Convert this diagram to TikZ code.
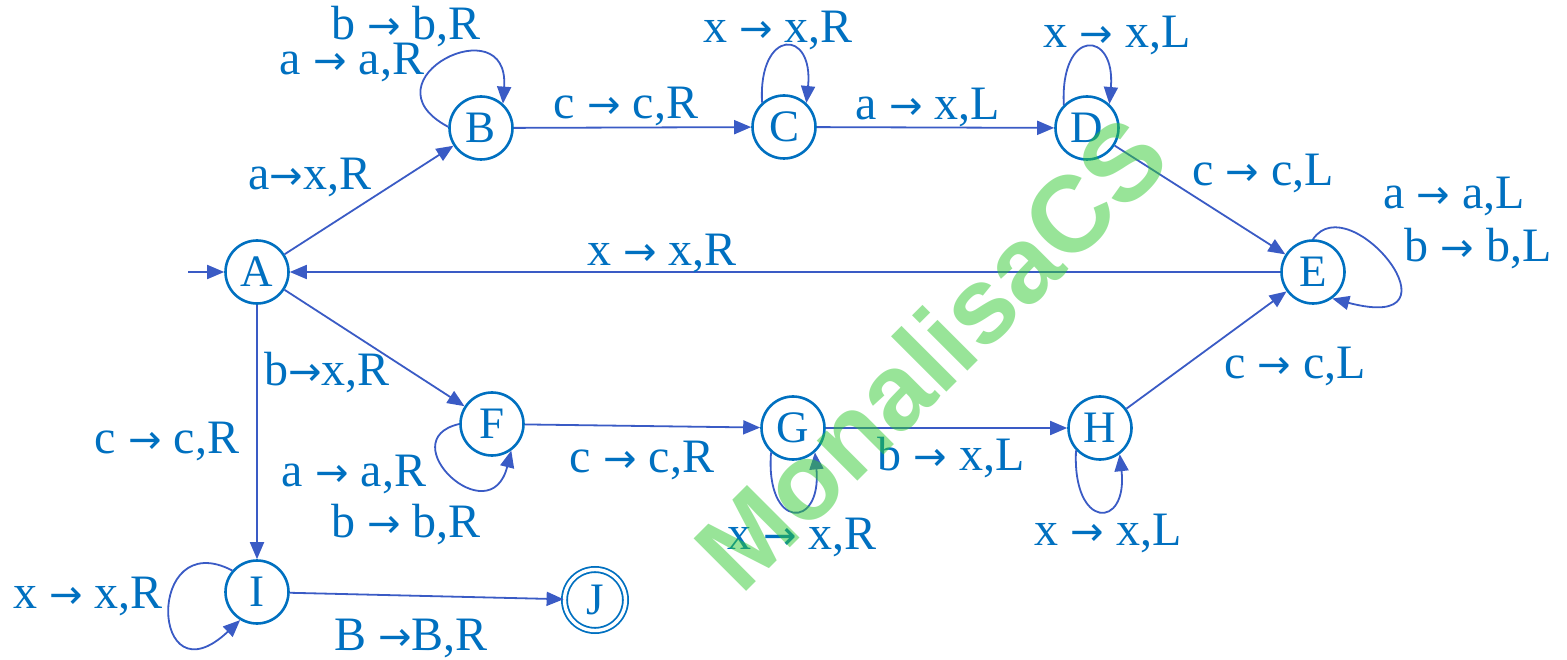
\documentclass[tikz,border=0pt]{standalone}
\usepackage{fontspec}
\setmainfont{Liberation Serif}
\newfontfamily\wmfont{Liberation Sans}
\newfontfamily\tmarrowfont{DejaVu Sans}
\usepackage{tikz}
\usetikzlibrary{arrows.meta, positioning}
\definecolor{tmblue}{HTML}{0070C0}
\definecolor{tmedgeblue}{HTML}{3A5BC5}
\definecolor{wmgreen}{HTML}{31CA31}
\newcommand{\tmto}{{\tmarrowfont\fontsize{40}{40}\selectfont →}}

\begin{document}
\begin{tikzpicture}[x=1pt, y=1pt, font=\fontsize{48}{56}\selectfont, >={Triangle[length=17pt, width=14pt]},
    tmstate/.style={circle, draw=tmblue, text=tmblue, line width=2.6pt, minimum size=63pt, inner sep=0pt, font=\fontsize{45}{50}\selectfont},
    tmfinal/.style={tmstate, line width=1.8pt, double=white, double distance=3.4pt, minimum size=61pt},
    tmedge/.style={->, draw=tmedgeblue, line width=1.8pt},
    tmlabel/.style={text=tmblue, inner sep=0pt, anchor=base}]
        \useasboundingbox (0,0) rectangle (1567,-660);

        % states
        \node[tmstate] (A) at (257,-272) {A};
        \node[tmstate] (B) at (481,-128) {B};
        \node[tmstate] (C) at (784,-127) {C};
        \node[tmstate] (D) at (1087,-128) {D};
        \node[tmstate] (E) at (1313,-272) {E};
        \node[tmstate] (F) at (492,-424) {F};
        \node[tmstate] (G) at (793,-428) {G};
        \node[tmstate] (H) at (1100,-428) {H};
        \node[tmstate] (I) at (257,-592) {I};
        \node[tmfinal] (J) at (595,-600) {J};
        \coordinate (start) at (188,-272);

        % transitions
        \draw[tmedge] (start) -- (A);
        \draw[tmedge] (A) -- (B);
        \draw[tmedge] (B) -- (C);
        \draw[tmedge] (C) -- (D);
        \draw[tmedge] (D) -- (E);
        \draw[tmedge] (E) -- (A);
        \draw[tmedge] (A) -- (F);
        \draw[tmedge] (F) -- (G);
        \draw[tmedge] (G) -- (H);
        \draw[tmedge] (H) -- (E);
        \draw[tmedge] (A) -- (I);
        \draw[tmedge] (I) -- (J);

        % loops
        \draw[tmedge] (B.178) .. controls (360,-80) and (510,-5) .. (B.48);
        \draw[tmedge] (C.132) .. controls (758,-28) and (814,-28) .. (C.47);
        \draw[tmedge] (D.135) .. controls (1060,-27) and (1116,-30) .. (D.47);
        \draw[tmedge] (E.90) .. controls (1350,-185) and (1470,-335) .. (E.-54);
        \draw[tmedge] (F.180) .. controls (390,-440) and (490,-535) .. (F.-54);
        \draw[tmedge] (G.228) .. controls (765,-530) and (822,-530) .. (G.-48);
        \draw[tmedge] (H.223) .. controls (1072,-530) and (1128,-530) .. (H.-53);
        \draw[tmedge] (I.139) .. controls (145,-525) and (150,-705) .. (I.239);

        % labels
        \node[tmlabel] (lBB2) at (406,-40) {b \tmto{} b,R};
        \node[tmlabel] (lBB1) at (352,-75) {a \tmto{} a,R};
        \node[tmlabel] (lAB) at (310,-190) {a\tmto{}x,R};
        \node[tmlabel] (lBC) at (626,-119) {c \tmto{} c,R};
        \node[tmlabel] (lCC) at (778,-43) {x \tmto{} x,R};
        \node[tmlabel] (lCD) at (928,-120) {a \tmto{} x,L};
        \node[tmlabel] (lDD) at (1117,-48) {x \tmto{} x,L};
        \node[tmlabel] (lDE) at (1263,-186) {c \tmto{} c,L};
        \node[tmlabel] (lEE1) at (1454,-209) {a \tmto{} a,L};
        \node[tmlabel] (lEE2) at (1478,-262) {b \tmto{} b,L};
        \node[tmlabel] (lEA) at (662,-266) {x \tmto{} x,R};
        \node[tmlabel] (lAF) at (327,-385) {b\tmto{}x,R};
        \node[tmlabel] (lAI) at (167,-453) {c \tmto{} c,R};
        \node[tmlabel] (lFF1) at (354,-486) {a \tmto{} a,R};
        \node[tmlabel] (lFF2) at (406,-537) {b \tmto{} b,R};
        \node[tmlabel] (lFG) at (642,-472) {c \tmto{} c,R};
        \node[tmlabel] (lGH) at (951,-470) {b \tmto{} x,L};
        \node[tmlabel] (lGG) at (802,-549) {x \tmto{} x,R};
        \node[tmlabel] (lHH) at (1108,-545) {x \tmto{} x,L};
        \node[tmlabel] (lHE) at (1295,-379) {c \tmto{} c,L};
        \node[tmlabel] (lII) at (88,-608) {x \tmto{} x,R};
        \node[tmlabel] (lIJ) at (411,-650) {B \tmto{}B,R};

        % watermark
        \node[rotate=45, text=wmgreen, opacity=0.5, font=\wmfont\bfseries\fontsize{108}{108}\selectfont] (wm) at (931,-353) {MonalisaCS};
    \end{tikzpicture}
\end{document}
